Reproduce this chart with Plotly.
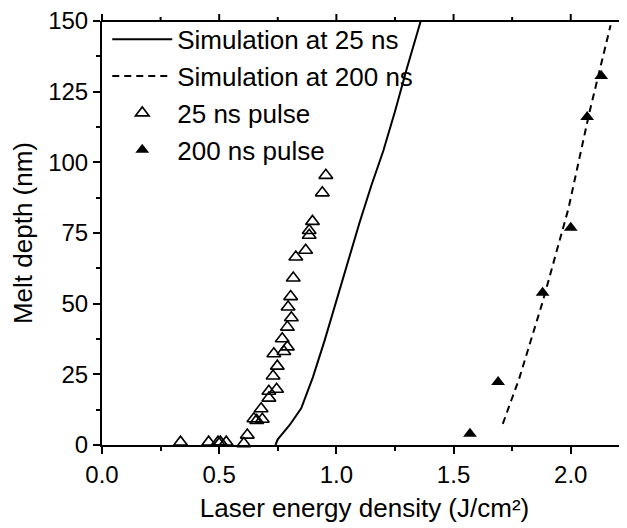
import plotly.graph_objects as go

# simulation curves
sim25_x = [0.74, 0.75, 0.77, 0.80, 0.85, 0.90, 0.95, 1.00, 1.05, 1.10, 1.15, 1.20, 1.25, 1.30, 1.36]
sim25_y = [0, 2, 4, 7, 13, 24, 37, 51, 65, 79, 92, 104, 118, 133, 150]

sim200_x = [1.71, 1.78, 1.88, 1.99, 2.08, 2.17]
sim200_y = [7.5, 23.5, 50.6, 83.6, 117.8, 148.5]

# measured melt depths
pulse25_x = [0.335, 0.455, 0.495, 0.505, 0.53, 0.605, 0.62, 0.648, 0.66, 0.684, 0.679,
             0.712, 0.712, 0.745, 0.73, 0.748, 0.733, 0.776, 0.791, 0.769, 0.791, 0.808,
             0.794, 0.805, 0.816, 0.827, 0.869, 0.884, 0.884, 0.898, 0.94, 0.955]
pulse25_y = [1, 1, 1, 1, 1, 0.5, 3.5, 9.3, 8.7, 9.1, 12.8,
             16.6, 19, 19.7, 24.4, 27.9, 32.3, 33.1, 34.7, 37.6, 41.7, 45,
             48.8, 52.5, 59.1, 66.5, 68.9, 74.2, 75.9, 79.1, 89.2, 95.4]

pulse200_x = [1.57, 1.69, 1.88, 2.00, 2.07, 2.13]
pulse200_y = [4.0, 22.3, 53.9, 76.9, 116.0, 130.5]

x_range = [0, 2.24]
x_ticks = [0, 0.5, 1.0, 1.5, 2.0]
x_ticktext = ["0.0", "0.5", "1.0", "1.5", "2.0"]
x_minor = [0.25, 0.75, 1.25, 1.75]
y_ticks = [0, 25, 50, 75, 100, 125, 150]
y_minor = [12.5, 37.5, 62.5, 87.5, 112.5, 137.5]

family = "Liberation Sans, Arial, sans-serif"
tick_font = dict(family=family, size=24, color="black")
title_font = dict(family=family, size=26, color="black")

fig = go.Figure()

fig.add_trace(go.Scatter(
    x=sim25_x, y=sim25_y, mode="lines", name="Simulation at 25 ns",
    line=dict(color="black", width=2)
))
fig.add_trace(go.Scatter(
    x=sim200_x, y=sim200_y, mode="lines", name="Simulation at 200 ns",
    line=dict(color="black", width=2, dash="7px,5px")
))
fig.add_trace(go.Scatter(
    x=pulse25_x, y=pulse25_y, mode="markers", name="25 ns pulse",
    cliponaxis=False,
    marker=dict(symbol="triangle-up-open", size=12, color="black", line=dict(width=1.6, color="black"))
))
fig.add_trace(go.Scatter(
    x=pulse200_x, y=pulse200_y, mode="markers", name="200 ns pulse",
    cliponaxis=False,
    marker=dict(symbol="triangle-up", size=12, color="black")
))

axis_common = dict(
    ticks="outside", ticklen=7, tickwidth=2, tickcolor="black",
    showline=True, linecolor="black", linewidth=2,
    showgrid=False, zeroline=False, automargin=False, tickfont=tick_font,
    ticklabeloverflow="allow",
)

plot_h = 520 - 13 - 83

# the page adds a small body margin, so the figure is drawn a bit smaller
fig.update_layout(
    width=619, height=520,
    margin=dict(l=94, r=0, t=13, b=83, autoexpand=False),
    plot_bgcolor="white", paper_bgcolor="white",
    font=tick_font,
    showlegend=True,
    legend=dict(
        x=0.01, y=1.012, xanchor="left", yanchor="top",
        bgcolor="rgba(0,0,0,0)", font=title_font, tracegroupgap=0,
        itemwidth=60
    ),
    xaxis=dict(
        range=x_range, tickvals=x_ticks, ticktext=x_ticktext,
        minor=dict(tickvals=x_minor + [2.25], ticks="outside",
                   ticklen=4, tickwidth=2, tickcolor="black", showgrid=False),
        title=dict(text="Laser energy density (J/cm²)", font=title_font, standoff=12),
        **axis_common
    ),
    yaxis=dict(
        range=[0, 150], tickvals=y_ticks,
        minor=dict(tickvals=y_minor, ticks="outside",
                   ticklen=4, tickwidth=2, tickcolor="black", showgrid=False),
        title=dict(text="Melt depth (nm)", font=title_font, standoff=10),
        **axis_common
    ),
)

# top frame line of the plot area
fig.add_shape(type="line", xref="paper", yref="paper", x0=0, x1=1, y0=1, y1=1,
              line=dict(color="black", width=2), layer="above")

# top frame ticks, pointing outward (paper refs so they are not clipped)
span = x_range[1] - x_range[0]
for xv in x_ticks:
    fx = (xv - x_range[0]) / span
    fig.add_shape(type="line", xref="paper", yref="paper", x0=fx, x1=fx,
                  y0=1, y1=1 + 7 / plot_h, line=dict(color="black", width=2), layer="above")
for xv in x_minor:
    fx = (xv - x_range[0]) / span
    fig.add_shape(type="line", xref="paper", yref="paper", x0=fx, x1=fx,
                  y0=1, y1=1 + 4 / plot_h, line=dict(color="black", width=2), layer="above")

fig.write_html("out.html")
